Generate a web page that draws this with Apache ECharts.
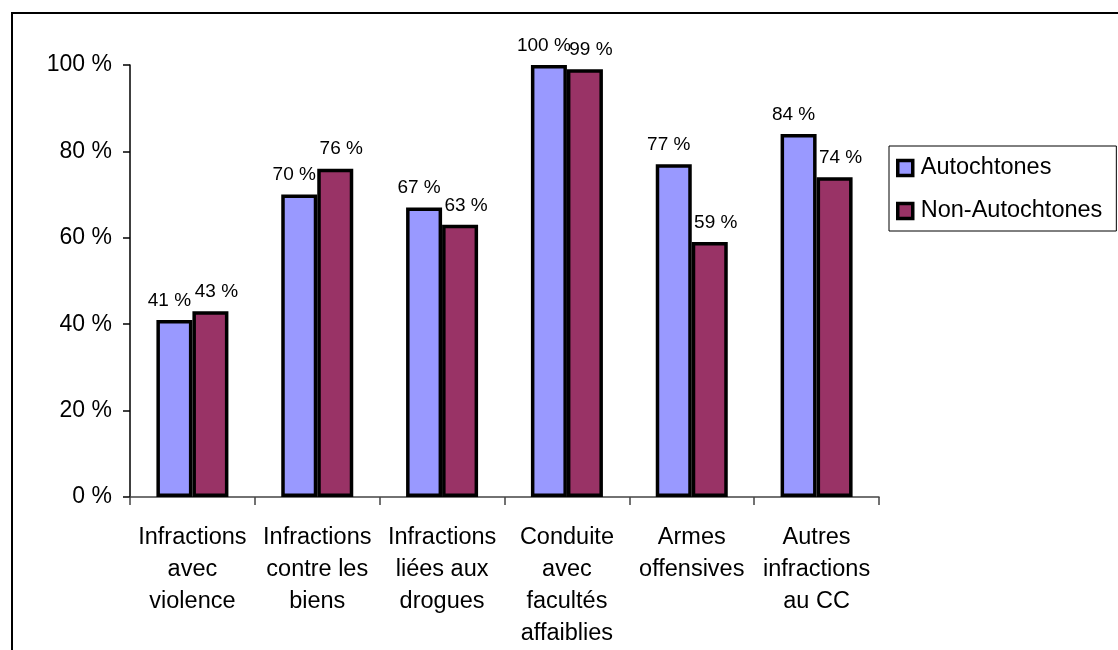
<!DOCTYPE html>
<html>
<head>
<meta charset="utf-8">
<script src="https://cdn.jsdelivr.net/npm/echarts@6/dist/echarts.min.js"></script>
<style>
html,body{margin:0;padding:0;background:#fff;}
#c{width:1118px;height:650px;}
</style>
</head>
<body>
<div id="c"></div>
<script>
const categories = [
  "Infractions\navec\nviolence",
  "Infractions\ncontre les\nbiens",
  "Infractions\nliées aux\ndrogues",
  "Conduite\navec\nfacultés\naffaiblies",
  "Armes\noffensives",
  "Autres\ninfractions\nau CC"
];
const autochtones = [41, 70, 67, 100, 77, 84];
const nonAutochtones = [43, 76, 63, 99, 59, 74];
const seriesNames = ["Autochtones", "Non-Autochtones"];
const yTicks = [0, 20, 40, 60, 80, 100];

const FONT = "'Liberation Sans', Arial, sans-serif";
const chart = echarts.init(document.getElementById('c'), null, {renderer: 'canvas'});

function labelCfg(dx) {
  return {
    show: true,
    position: 'top',
    distance: 10,
    offset: [dx, 0],
    color: '#000',
    fontFamily: FONT,
    fontSize: 19,
    formatter: p => p.value + ' %'
  };
}

chart.setOption({
  animation: false,
  backgroundColor: '#fff',
  graphic: [{
    type: 'rect',
    shape: {x: 12, y: 13, width: 1130, height: 660},
    style: {fill: 'none', stroke: '#000', lineWidth: 2},
    silent: true,
    z: 100
  }],
  grid: {left: 130, top: 65, right: 239, bottom: 152, containLabel: false},
  legend: {
    orient: 'vertical',
    left: 889,
    top: 146,
    data: seriesNames,
    padding: [10, 14, 8, 7],
    itemGap: 19,
    itemWidth: 15,
    itemHeight: 15,
    borderColor: '#000',
    borderWidth: 1,
    icon: 'rect',
    textStyle: {fontFamily: FONT, fontSize: 23.5, color: '#000', padding: [0, 0, 0, 3]},
    itemStyle: {borderColor: '#000', borderWidth: 3.5}
  },
  xAxis: {
    type: 'category',
    data: categories,
    axisLine: {show: true, lineStyle: {color: '#444', width: 1.5}},
    axisTick: {show: true, length: 8, alignWithLabel: false, lineStyle: {color: '#444', width: 1.5}},
    axisLabel: {
      interval: 0,
      margin: 25,
      fontFamily: FONT,
      fontSize: 23.5,
      lineHeight: 32,
      color: '#000',
      align: 'center'
    },
    splitLine: {show: false}
  },
  yAxis: {
    type: 'value',
    min: 0,
    max: 100,
    interval: 20,
    axisLine: {show: true, lineStyle: {color: '#000', width: 1.5}},
    axisTick: {show: true, length: 7, lineStyle: {color: '#000', width: 1.5}},
    axisLabel: {
      margin: 18,
      fontFamily: FONT,
      fontSize: 23,
      color: '#000',
      formatter: v => yTicks.includes(v) ? v + ' %' : ''
    },
    splitLine: {show: false}
  },
  series: [
    {
      name: seriesNames[0],
      type: 'bar',
      data: autochtones,
      barWidth: 36,
      barGap: '0%',
      itemStyle: {color: '#9999FF', borderColor: '#000', borderWidth: 3.5},
      label: labelCfg(-5)
    },
    {
      name: seriesNames[1],
      type: 'bar',
      data: nonAutochtones,
      barWidth: 36,
      barGap: '0%',
      itemStyle: {color: '#993366', borderColor: '#000', borderWidth: 3.5},
      label: labelCfg(6)
    }
  ]
});
</script>
</body>
</html>
